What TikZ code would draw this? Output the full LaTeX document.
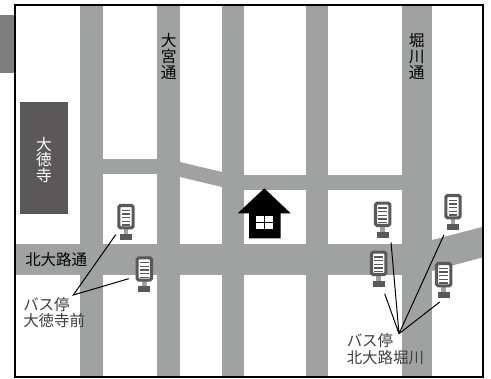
\documentclass[tikz,border=0pt]{standalone}
\usepackage{fontspec}
\setmainfont{Noto Sans CJK JP}
\definecolor{roadc}{HTML}{A0A2A1}
\definecolor{templec}{HTML}{5A5859}
\definecolor{labc}{HTML}{404040}
\definecolor{tabc}{HTML}{7C7C7C}
\tikzset{
 road/.style={fill=roadc,draw=none},
 lab/.style={inner sep=0pt,font=\fontsize{11.6}{12}\selectfont,align=left,text=labc},
 vlab/.style={inner sep=0pt,font=\fontsize{11.8}{11.8}\selectfont,align=center},
 leader/.style={draw=black,line width=0.75pt},
}
\newcommand{\busstop}[3]{%
 \begin{scope}[shift={(#1,#2)}]
 \fill[roadc] (-2.3,25) rectangle (2.3,30);
 \fill[templec] (-6,30) rectangle (6,36);
 \draw[templec,line width=2.3pt,fill=white,rounded corners=1.2pt] (-7.2,1.5) rectangle (7.2,23.8);
 \foreach \yy in {6.5,10.2,13.9,17.6,21.3}{\fill[templec] (-4.4,\yy-1) rectangle (4.4,\yy+0.3);}
 \end{scope}}
\begin{document}
\begin{tikzpicture}[x=0.75pt,y=-0.75pt]
\useasboundingbox (0,0) rectangle (491,378);
\fill[white] (0,0) rectangle (491,378);
\fill[tabc] (0,15) rectangle (14,73);
% roads
\fill[road] (80,4) rectangle (103,376);
\fill[road] (157,4) rectangle (180,376);
\fill[road] (222,4) rectangle (244,376);
\fill[road] (306,4) rectangle (328,376);
\fill[road] (402,4) rectangle (432,376);
\fill[road] (14,244) rectangle (432,275);
\fill[road] (103,159) rectangle (157,174);
\fill[road] (180,162) -- (222,172) -- (222,187) -- (180,177) -- cycle;
\fill[road] (222,175) rectangle (402,190);
\fill[road] (432,240) -- (482,227) -- (482,257.5) -- (432,271) -- cycle;
% temple
\fill[templec] (20,102) rectangle (68,214);
\node[vlab,text=white] (templelabel) at (44,160) {大\\徳\\寺};
% road names
\node[vlab] (omiya) at (168.7,56.5) {大\\宮\\通};
\node[vlab] (horikawa) at (416.7,56.5) {堀\\川\\通};
\node[inner sep=0pt,font=\fontsize{11.6}{12}\selectfont,anchor=west] (kita) at (25,259.5) {北大路通};
% house
\fill[black] (237.7,213.3) -- (264.3,188.3) -- (290.7,213.3) -- (280.5,213.3) -- (280.5,238.3) -- (249,238.3) -- (249,213.3) -- cycle;
\fill[white] (256,215.7) rectangle (263.7,221.7);
\fill[white] (265,215.7) rectangle (272.7,221.7);
\fill[white] (256,223) rectangle (263.7,229);
\fill[white] (265,223) rectangle (272.7,229);
% stops
\busstop{126}{204}{s1}
\busstop{144.3}{256.3}{s2}
\busstop{382.7}{201.7}{s3}
\busstop{378.7}{250.7}{s4}
\busstop{453}{194}{s5}
\busstop{443.7}{262}{s6}
% labels
\node[lab,anchor=west] (l1) at (23,304.7) {バス停};
\node[lab,anchor=west] (l1b) at (23,321) {大徳寺前};
\node[lab,anchor=west] (l2) at (346.5,341) {バス停};
\node[lab,anchor=west] (l2b) at (346.5,358) {北大路堀川};
\coordinate (a) at (73.3,295);
\coordinate (b) at (399,333.7);
\coordinate (e1) at (115.7,234.7);
\coordinate (e2) at (128.7,278.7);
\coordinate (e3) at (391,242.3);
\coordinate (e4) at (384.7,293.7);
\coordinate (e5) at (444,234.7);
\coordinate (e6) at (439.7,302);
\draw[leader] (e1) -- (a) -- (e2);
\draw[leader] (e3) -- (b) (e4) -- (b) (e5) -- (b) (e6) -- (b);
% frame
\draw[black,line width=1.5pt] (15,5) rectangle (483,376.5);
\end{tikzpicture}
\end{document}
